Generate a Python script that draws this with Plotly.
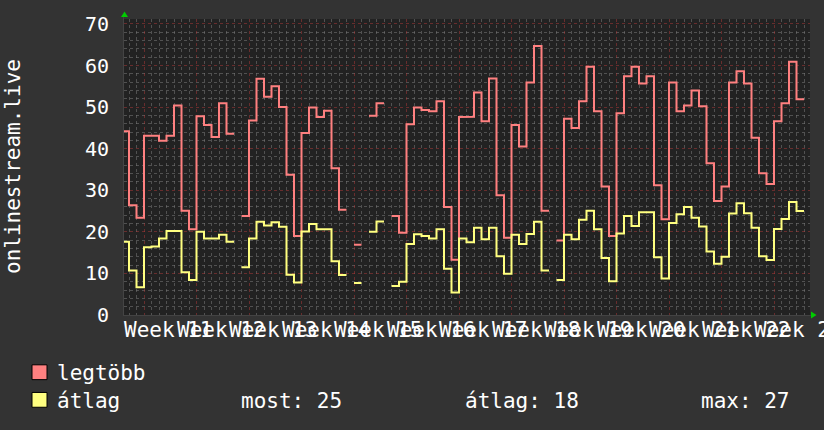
import plotly.graph_objects as go

# ---- data (daily bins, day 0 = start of first labelled week) ----
day_index = list(range(-3, 88))

legtobb = [44.2, 26.4, 23.4,
           43.1, 43.1, 41.9, 43.1, 50.4, 25.1, 20.6,
           47.8, 45.7, 42.8, 50.9, 43.6, None, 23.8,
           46.8, 56.8, 52.5, 55.0, 50.0, 33.7, 19.0,
           43.8, 49.9, 47.6, 49.1, 35.3, 25.3, None,
           16.9, None, 47.9, 50.9, None, 23.8, 19.8,
           45.9, 49.9, 49.3, 49.0, 51.4, 26.0, 13.3,
           47.6, 47.7, 53.5, 46.6, 56.9, 28.8, 18.6,
           45.7, 40.5, 55.9, 64.7, 25.1, None, 17.9,
           47.2, 45.0, 51.4, 59.7, 49.0, 30.9, 19.0,
           48.5, 57.4, 59.7, 55.7, 57.4, 31.2, 23.0,
           55.9, 49.0, 50.4, 54.0, 50.2, 36.5, 27.4,
           30.9, 55.9, 58.6, 55.7, 42.6, 34.1, 31.5,
           46.6, 50.9, 60.9, 51.9]

atlag = [17.6, 10.7, 6.7,
         16.3, 16.5, 18.4, 20.2, 20.2, 10.3, 8.4,
         20.0, 18.4, 18.4, 19.3, 17.6, None, 11.5,
         18.4, 22.4, 21.5, 22.3, 21.2, 9.7, 7.8,
         20.1, 21.9, 20.6, 20.6, 12.9, 9.6, None,
         7.7, None, 20.0, 22.5, None, 7.0, 8.0,
         17.1, 19.4, 19.0, 18.4, 20.6, 11.1, 5.4,
         18.4, 17.5, 21.0, 18.2, 21.0, 14.1, 9.9,
         19.3, 17.1, 19.5, 22.4, 10.7, None, 8.4,
         19.3, 18.2, 22.9, 25.1, 20.6, 13.7, 8.1,
         19.6, 23.8, 21.4, 24.7, 24.7, 13.9, 8.8,
         22.1, 24.2, 26.0, 23.4, 21.3, 15.3, 12.3,
         14.0, 24.4, 26.9, 24.5, 21.0, 14.1, 13.2,
         20.7, 23.1, 27.2, 25.0]

week_labels = ["Week 11", "Week 12", "Week 13", "Week 14", "Week 15", "Week 16",
               "Week 17", "Week 18", "Week 19", "Week 20", "Week 21", "Week 22",
               "Week 23"]
week_label_pos = [3.5, 10.5, 17.5, 24.5, 31.5, 38.5, 45.5, 52.5, 59.5, 66.5,
                  73.5, 80.5, 87.5]

legend_names = ["legtöbb", "átlag"]
stat_labels = ["most: 25", "átlag: 18", "max: 27"]

y_title = "onlinestream.live"

# ---- styling ----
FONT = "DejaVu Sans Mono"
RED = "#ff8080"
YEL = "#ffff80"
W, H = 824, 430
L, R, T, B = 124, 14, 15, 115
PW, PH = W - L - R, H - T - B


def px(xp):
    return (xp - L) / PW


def py(yp):
    return (H - B - yp) / PH


def steps(days, vals):
    xs, ys = [], []
    for d, v in zip(days, vals):
        if v is None:
            xs.append(None)
            ys.append(None)
        else:
            xs += [d, d + 1]
            ys += [v, v]
    return xs, ys


fig = go.Figure()
for name, vals, col in [(legend_names[0], legtobb, RED), (legend_names[1], atlag, YEL)]:
    xs, ys = steps(day_index, vals)
    fig.add_trace(go.Scatter(x=xs, y=ys, mode="lines", name=name,
                             line=dict(color=col, width=2), connectgaps=False,
                             showlegend=False, hoverinfo="skip"))

fig.update_layout(
    width=W, height=H,
    margin=dict(l=L, r=R, t=T, b=B, pad=0),
    paper_bgcolor="#333333", plot_bgcolor="#222222",
    font=dict(family=FONT, size=20, color="#ffffff"),
    showlegend=False,
)
fig.update_xaxes(
    range=[(L - 144) / 7.5, (W - R - 144) / 7.5],
    tickmode="linear", tick0=0, dtick=7,
    showticklabels=False, ticks="",
    showgrid=True, gridcolor="rgba(190,60,60,0.45)", griddash="dot", gridwidth=1,
    minor=dict(dtick=1, tick0=0, showgrid=True, gridcolor="rgba(120,120,120,0.55)",
               griddash="dot", gridwidth=1, ticks=""),
    zeroline=False, showline=False, fixedrange=True,
)
fig.update_yaxes(
    range=[0, 70 + 5 / (300 / 71.2)],
    tickmode="linear", tick0=0, dtick=10,
    ticks="", ticklabelstandoff=14,
    tickfont=dict(family=FONT, size=20, color="#ffffff"),
    showgrid=True, gridcolor="rgba(190,60,60,0.45)", griddash="dot", gridwidth=1,
    minor=dict(dtick=2, tick0=0, showgrid=True, gridcolor="rgba(120,120,120,0.55)",
               griddash="dot", gridwidth=1, ticks=""),
    zeroline=False, showline=False, fixedrange=True,
)

ann = []
for lab, pos in zip(week_labels, week_label_pos):
    ann.append(dict(x=pos - 0.2, y=py(330), xref="x", yref="paper", text=lab,
                    showarrow=False, xanchor="center", yanchor="middle",
                    font=dict(family=FONT, size=21, color="#ffffff")))
ann.append(dict(x=px(13), y=py(165), xref="paper", yref="paper", text=y_title,
                textangle=-90, showarrow=False, xanchor="center", yanchor="middle",
                font=dict(family=FONT, size=21, color="#ffffff")))
# legend rows
ann.append(dict(x=px(55), y=py(374), xref="paper", yref="paper", text=legend_names[0],
                showarrow=False, xanchor="left", yanchor="middle",
                font=dict(family=FONT, size=21, color="#ffffff")))
ann.append(dict(x=px(55), y=py(402), xref="paper", yref="paper", text=legend_names[1],
                showarrow=False, xanchor="left", yanchor="middle",
                font=dict(family=FONT, size=21, color="#ffffff")))
for lab, xs in zip(stat_labels, [239, 463, 699]):
    ann.append(dict(x=px(xs), y=py(402), xref="paper", yref="paper", text=lab,
                    showarrow=False, xanchor="left", yanchor="middle",
                    font=dict(family=FONT, size=21, color="#ffffff")))
fig.update_layout(annotations=ann)

shapes = []
# axis lines
shapes.append(dict(type="line", xref="paper", yref="paper", x0=px(123), x1=px(811),
                   y0=py(315.5), y1=py(315.5), line=dict(color="#444444", width=1)))
shapes.append(dict(type="line", xref="paper", yref="paper", x0=px(123.5), x1=px(123.5),
                   y0=py(315.5), y1=py(13), line=dict(color="#444444", width=1)))
# arrows
shapes.append(dict(type="path", xref="paper", yref="paper",
                   path=f"M {px(124.5)} {py(7.5)} L {px(121)} {py(13)} L {px(128)} {py(13)} Z",
                   fillcolor="#00cc00", line=dict(width=0)))
shapes.append(dict(type="path", xref="paper", yref="paper",
                   path=f"M {px(816.5)} {py(315)} L {px(811)} {py(311.5)} L {px(811)} {py(318.5)} Z",
                   fillcolor="#00cc00", line=dict(width=0)))
# legend swatches
for col, yc in [(RED, 373), (YEL, 401)]:
    shapes.append(dict(type="rect", xref="paper", yref="paper",
                       x0=px(32), x1=px(47), y0=py(yc + 7.5), y1=py(yc - 7.5),
                       fillcolor=col, line=dict(color="#000000", width=1)))
fig.update_layout(shapes=shapes)

fig.write_html("out.html")
